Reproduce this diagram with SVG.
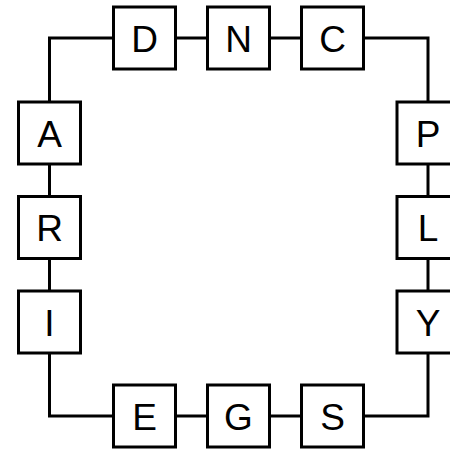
<svg xmlns="http://www.w3.org/2000/svg" width="450" height="454" viewBox="0 0 450 454">
<style>
.box{fill:#fff;stroke:#000;stroke-width:3}
.lbl{font-family:"Liberation Sans",Arial,sans-serif;font-size:37px;fill:#000;text-anchor:middle}
.edge{fill:none;stroke:#000;stroke-width:3}
</style>
<rect width="450" height="454" fill="#fff"/>
<g id="connectors">
<path class="edge" d="M49.5,102 V38 H113.5"/>
<path class="edge" d="M175.5,38 H207.5"/>
<path class="edge" d="M269.5,38 H301.5"/>
<path class="edge" d="M363.5,38 H428 V102"/>
<path class="edge" d="M428,164 V196.5"/>
<path class="edge" d="M428,258.5 V291"/>
<path class="edge" d="M428,353 V416 H363.5"/>
<path class="edge" d="M301.5,416 H269.5"/>
<path class="edge" d="M207.5,416 H175.5"/>
<path class="edge" d="M113.5,416 H49.5 V353"/>
<path class="edge" d="M49.5,291 V258.5"/>
<path class="edge" d="M49.5,196.5 V164"/>
</g>
<g id="D"><rect class="box" x="113.5" y="7" width="62" height="62"/><text class="lbl" x="144.5" y="51.5">D</text></g>
<g id="N"><rect class="box" x="207.5" y="7" width="62" height="62"/><text class="lbl" x="238.5" y="51.5">N</text></g>
<g id="C"><rect class="box" x="301.5" y="7" width="62" height="62"/><text class="lbl" x="332.5" y="51.5">C</text></g>
<g id="A"><rect class="box" x="18.5" y="102" width="62" height="62"/><text class="lbl" x="49.5" y="146.5">A</text></g>
<g id="R"><rect class="box" x="18.5" y="196.5" width="62" height="62"/><text class="lbl" x="49.5" y="241">R</text></g>
<g id="I"><rect class="box" x="18.5" y="291" width="62" height="62"/><text class="lbl" x="49.5" y="335.5">I</text></g>
<g id="P"><rect class="box" x="397" y="102" width="62" height="62"/><text class="lbl" x="428" y="146.5">P</text></g>
<g id="L"><rect class="box" x="397" y="196.5" width="62" height="62"/><text class="lbl" x="428" y="241">L</text></g>
<g id="Y"><rect class="box" x="397" y="291" width="62" height="62"/><text class="lbl" x="428" y="335.5">Y</text></g>
<g id="E"><rect class="box" x="113.5" y="385" width="62" height="62"/><text class="lbl" x="144.5" y="429.5">E</text></g>
<g id="G"><rect class="box" x="207.5" y="385" width="62" height="62"/><text class="lbl" x="238.5" y="429.5">G</text></g>
<g id="S"><rect class="box" x="301.5" y="385" width="62" height="62"/><text class="lbl" x="332.5" y="429.5">S</text></g>
</svg>
